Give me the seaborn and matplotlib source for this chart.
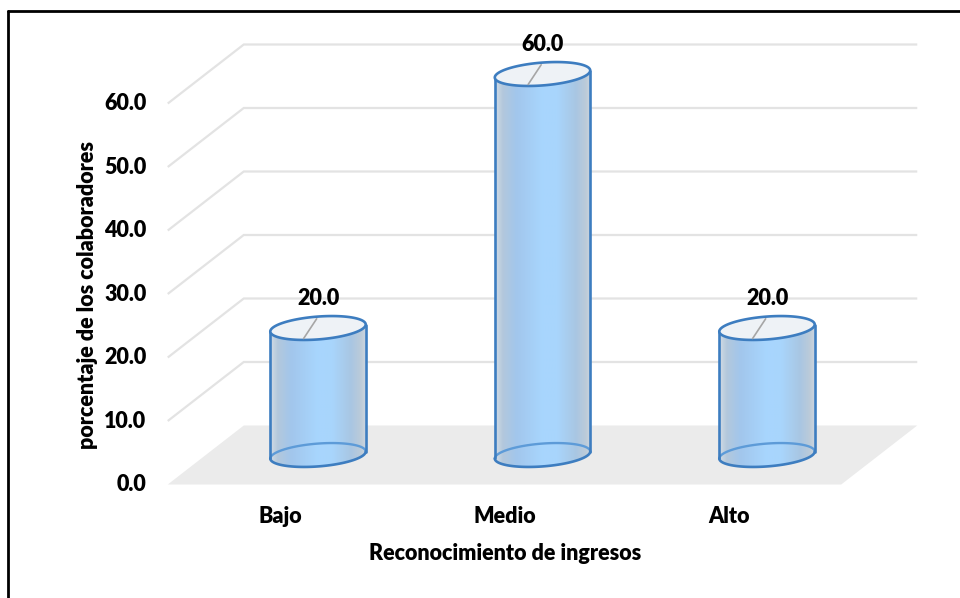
import numpy as np
import matplotlib
matplotlib.use("Agg")
import matplotlib.pyplot as plt
from matplotlib.patches import Polygon, PathPatch
from matplotlib.path import Path
from matplotlib.colors import LinearSegmentedColormap
from matplotlib.lines import Line2D
import seaborn as sns

# ---- data -------------------------------------------------------------
categories = ["Bajo", "Medio", "Alto"]
values = [20.0, 60.0, 20.0]
y_ticks = [0, 10, 20, 30, 40, 50, 60]
y_tick_labels = ["0.0", "10.0", "20.0", "30.0", "40.0", "50.0", "60.0"]
value_labels = ["20.0", "60.0", "20.0"]
x_title = "Reconocimiento de ingresos"
y_title = "porcentaje de los colaboradores"

# ---- style ------------------------------------------------------------
sns.set_theme(style="white")
plt.rcParams["font.family"] = ["Lato", "DejaVu Sans"]
FS = 15.5
FW = "heavy"

W, H, DPI = 960, 598, 100
fig = plt.figure(figsize=(W / DPI, H / DPI), dpi=DPI)
ax = fig.add_axes([0, 0, 1, 1])

# pixel scale of the chart's middle (bar) plane
CAT_PX, VAL_PX = 224.5, 6.35
X0_PX, Y0_PX = 318, 455
# oblique depth of the 3-D box, in data units
DX, DY = 76 / CAT_PX, 59 / VAL_PX

BAR_W = 0.425
sns.barplot(x=categories, y=values, width=BAR_W, ax=ax)

ax.set_xlim(-X0_PX / CAT_PX, (W - X0_PX) / CAT_PX)
ax.set_ylim((Y0_PX - H) / VAL_PX, Y0_PX / VAL_PX)
ax.set_axis_off()


def proj(x, v, d):
    """Oblique projection: depth d=0 is the front, d=1 the back wall."""
    return x + (d - 0.5) * DX, v + (d - 0.5) * DY


GRID = "#e3e3e3"
FLOOR = "#ebebeb"
EDGE = "#3d7dc0"
EDGE_BACK = "#5d9bd8"

x_lo, x_hi = -0.5, len(categories) - 0.5

# floor
floor = [proj(x_lo, 0, 0), proj(x_hi, 0, 0), proj(x_hi, 0, 1), proj(x_lo, 0, 1)]
ax.add_patch(Polygon(floor, closed=True, facecolor=FLOOR, edgecolor="none", zorder=1))

# side-wall and back-wall gridlines
for v in y_ticks[1:]:
    fx, fy = proj(x_lo, v, 0)
    bx, by = proj(x_lo, v, 1)
    rx, ry = proj(x_hi, v, 1)
    ax.plot([fx, bx, rx], [fy, by, ry], color=GRID, lw=1.6, zorder=1,
            solid_capstyle="butt", solid_joinstyle="miter")

# y tick labels on the front-left edge
for v, lab in zip(y_ticks, y_tick_labels):
    fx, fy = proj(x_lo, v, 0)
    ax.text(fx - 0.095, fy, lab, ha="right", va="center", fontsize=FS,
            fontweight=FW, color="black")

# cylinders built from the seaborn bars
cmap = LinearSegmentedColormap.from_list(
    "cyl",
    [(0.0, "#d3dce5"), (0.08, "#b3c8dc"), (0.22, "#a2c6ec"),
     (0.5, "#a8d6fe"), (0.65, "#a8d5fc"), (0.85, "#a9c6e2"),
     (0.95, "#bccbd9"), (1.0, "#cdd6df")])
grad = np.linspace(0, 1, 256).reshape(1, -1)

EH = 1.8    # ellipse half-height (data units)
ES = 0.55   # tilt of the ellipses (data units)
t_front = np.linspace(np.pi, 2 * np.pi, 80)
t_all = np.linspace(0, 2 * np.pi, 160)
t_back = np.linspace(0, np.pi, 80)

bars = list(ax.patches)
for bar, lab in zip(bars, value_labels):
    bar.set_visible(False)
    xc = bar.get_x() + bar.get_width() / 2
    w = bar.get_width() / 2
    top = bar.get_height()

    def ell(t, base):
        return xc + w * np.cos(t), base + EH * np.sin(t) + ES * np.cos(t)

    # body outline: left side, front half of top rim, right side, front half of bottom rim
    tx, ty = ell(t_front, top)
    bx, by = ell(t_front[::-1], 0.0)
    px = np.concatenate([[xc - w], tx, bx])
    py = np.concatenate([[-ES], ty, by])
    body_path = Path(np.column_stack([px, py]))
    clip = PathPatch(body_path, facecolor="none", edgecolor="none",
                     transform=ax.transData)
    ax.add_patch(clip)
    im = ax.imshow(grad, cmap=cmap, aspect="auto", interpolation="bilinear",
                   extent=[xc - w, xc + w, -EH - ES, top + EH], zorder=3)
    im.set_clip_path(clip)

    # bottom rim: back half lighter, front half solid
    ex, ey = ell(t_back, 0.0)
    ax.plot(ex, ey, color=EDGE_BACK, lw=1.7, zorder=4)
    ex, ey = ell(t_front, 0.0)
    ax.plot(ex, ey, color=EDGE, lw=1.9, zorder=5)

    # sides
    ax.plot([xc - w, xc - w], [-ES, top - ES], color=EDGE, lw=1.9, zorder=5)
    ax.plot([xc + w, xc + w], [ES, top + ES], color=EDGE, lw=1.9, zorder=5)

    # top cap
    ex, ey = ell(t_all, top)
    ax.add_patch(Polygon(np.column_stack([ex, ey]), closed=True,
                         facecolor="#eef2f6", edgecolor=EDGE, lw=1.9, zorder=6))

    # value label with leader line
    ax.plot([xc - 0.064, xc - 0.006], [top - 1.65, top + 1.45],
            color="#a6a6a6", lw=1.2, zorder=7)
    ax.text(xc, top + 4.6, lab, ha="center", va="center", fontsize=FS,
            fontweight=FW, color="black", zorder=8)

# category labels under the front edge
for i, cat in enumerate(categories):
    fx, fy = proj(i, 0, 0)
    ax.text(fx, fy - 5.1, cat, ha="center", va="center", fontsize=FS,
            fontweight=FW, color="black")

# axis titles
fig.text(505 / W, 1 - 553 / H, x_title, ha="center", va="center",
         fontsize=FS, fontweight=FW, color="black")
fig.text(88 / W, 1 - 295 / H, y_title, ha="center", va="center",
         rotation=90, fontsize=FS, fontweight=FW, color="black")

# chart frame (left and top edges fall inside the canvas)
fig.add_artist(Line2D([7.5 / W, 7.5 / W], [0, 1 - 10.5 / H],
                      transform=fig.transFigure, color="black", lw=2.0))
fig.add_artist(Line2D([7.5 / W, 1.0], [1 - 10.5 / H, 1 - 10.5 / H],
                      transform=fig.transFigure, color="black", lw=2.0))

fig.savefig("out.png", dpi=DPI, facecolor="white")
